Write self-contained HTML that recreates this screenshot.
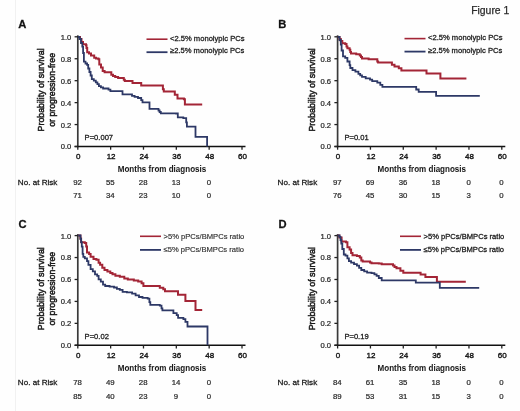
<!DOCTYPE html>
<html><head><meta charset="utf-8"><style>
html,body{margin:0;padding:0;background:#fff;}
body{width:520px;height:411px;overflow:hidden;}
svg{display:block;filter:blur(0.35px);}
text{filter:grayscale(1);}
text{font-family:"Liberation Sans", sans-serif;stroke:#1a1a1a;stroke-width:0.28px;}
</style></head><body>
<svg width="520" height="411" viewBox="0 0 520 411">
<rect width="520" height="411" fill="#fefefe"/>
<line x1="15.5" y1="0" x2="15.5" y2="411" stroke="#f1f1f1" stroke-width="1"/>
<line x1="77.8" y1="35.3" x2="77.8" y2="147.25" stroke="#3a3a3a" stroke-width="1.7"/>
<line x1="74.6" y1="146.5" x2="245.5" y2="146.5" stroke="#111" stroke-width="1.5"/>
<line x1="74.6" y1="146.5" x2="77.8" y2="146.5" stroke="#222" stroke-width="1.3"/>
<text x="71.3" y="149.45" font-size="7.6" text-anchor="end" font-weight="normal" fill="#262626" style="stroke:#262626;stroke-width:0.22px">0.0</text>
<line x1="74.6" y1="124.56" x2="77.8" y2="124.56" stroke="#222" stroke-width="1.3"/>
<text x="71.3" y="127.51" font-size="7.6" text-anchor="end" font-weight="normal" fill="#262626" style="stroke:#262626;stroke-width:0.22px">0.2</text>
<line x1="74.6" y1="102.62" x2="77.8" y2="102.62" stroke="#222" stroke-width="1.3"/>
<text x="71.3" y="105.57" font-size="7.6" text-anchor="end" font-weight="normal" fill="#262626" style="stroke:#262626;stroke-width:0.22px">0.4</text>
<line x1="74.6" y1="80.68" x2="77.8" y2="80.68" stroke="#222" stroke-width="1.3"/>
<text x="71.3" y="83.63" font-size="7.6" text-anchor="end" font-weight="normal" fill="#262626" style="stroke:#262626;stroke-width:0.22px">0.6</text>
<line x1="74.6" y1="58.74" x2="77.8" y2="58.74" stroke="#222" stroke-width="1.3"/>
<text x="71.3" y="61.69" font-size="7.6" text-anchor="end" font-weight="normal" fill="#262626" style="stroke:#262626;stroke-width:0.22px">0.8</text>
<line x1="74.6" y1="36.8" x2="77.8" y2="36.8" stroke="#222" stroke-width="1.3"/>
<text x="71.3" y="39.75" font-size="7.6" text-anchor="end" font-weight="normal" fill="#262626" style="stroke:#262626;stroke-width:0.22px">1.0</text>
<line x1="77.8" y1="146.5" x2="77.8" y2="149.7" stroke="#222" stroke-width="1.3"/>
<text x="78.3" y="158.9" font-size="8.0" text-anchor="middle" font-weight="normal" fill="#1a1a1a" style="stroke:#1a1a1a;stroke-width:0.4px">0</text>
<line x1="110.64" y1="146.5" x2="110.64" y2="149.7" stroke="#222" stroke-width="1.3"/>
<text x="111.14" y="158.9" font-size="8.0" text-anchor="middle" font-weight="normal" fill="#1a1a1a" style="stroke:#1a1a1a;stroke-width:0.4px">12</text>
<line x1="143.48" y1="146.5" x2="143.48" y2="149.7" stroke="#222" stroke-width="1.3"/>
<text x="143.98" y="158.9" font-size="8.0" text-anchor="middle" font-weight="normal" fill="#1a1a1a" style="stroke:#1a1a1a;stroke-width:0.4px">24</text>
<line x1="176.32" y1="146.5" x2="176.32" y2="149.7" stroke="#222" stroke-width="1.3"/>
<text x="176.82" y="158.9" font-size="8.0" text-anchor="middle" font-weight="normal" fill="#1a1a1a" style="stroke:#1a1a1a;stroke-width:0.4px">36</text>
<line x1="209.16" y1="146.5" x2="209.16" y2="149.7" stroke="#222" stroke-width="1.3"/>
<text x="209.66" y="158.9" font-size="8.0" text-anchor="middle" font-weight="normal" fill="#1a1a1a" style="stroke:#1a1a1a;stroke-width:0.4px">48</text>
<line x1="242" y1="146.5" x2="242" y2="149.7" stroke="#222" stroke-width="1.3"/>
<text x="242.5" y="158.9" font-size="8.0" text-anchor="middle" font-weight="normal" fill="#1a1a1a" style="stroke:#1a1a1a;stroke-width:0.4px">60</text>
<text x="162" y="171.9" font-size="9.4" text-anchor="middle" font-weight="bold" fill="#1a1a1a" textLength="88.5" lengthAdjust="spacingAndGlyphs" style="stroke-width:0.05px">Months from diagnosis</text>
<text x="0" y="0" font-size="9.6" text-anchor="middle" textLength="83.0" lengthAdjust="spacingAndGlyphs" fill="#1a1a1a" style="stroke-width:0.5px" transform="translate(43.7,89.9) rotate(-90)">Probability of survival</text>
<text x="0" y="0" font-size="9.6" text-anchor="middle" textLength="73.8" lengthAdjust="spacingAndGlyphs" fill="#1a1a1a" style="stroke-width:0.5px" transform="translate(55.3,89.9) rotate(-90)">or progression-free</text>
<line x1="146.5" y1="39.2" x2="167.5" y2="39.2" stroke="#a32536" stroke-width="1.6"/>
<line x1="146.5" y1="52.2" x2="167.5" y2="52.2" stroke="#2d3866" stroke-width="1.8"/>
<text x="170" y="40.6" font-size="7.6" text-anchor="start" font-weight="normal" fill="#1a1a1a" style="stroke:#1a1a1a;stroke-width:0.28px">&lt;2.5% monolypic PCs</text>
<text x="170" y="53.2" font-size="7.6" text-anchor="start" font-weight="normal" fill="#1a1a1a" style="stroke:#1a1a1a;stroke-width:0.28px">&#8805;2.5% monolypic PCs</text>
<text x="84.6" y="139.9" font-size="7.6" text-anchor="start" font-weight="normal" fill="#1a1a1a" >P=0.007</text>
<text x="17.8" y="185.4" font-size="8.1" text-anchor="start" font-weight="normal" fill="#1a1a1a" >No. at Risk</text>
<text x="77.5" y="185.4" font-size="7.8" text-anchor="middle" font-weight="normal" fill="#2a2a2a" style="stroke:#2a2a2a;stroke-width:0.22px">92</text>
<text x="110.34" y="185.4" font-size="7.8" text-anchor="middle" font-weight="normal" fill="#2a2a2a" style="stroke:#2a2a2a;stroke-width:0.22px">55</text>
<text x="143.18" y="185.4" font-size="7.8" text-anchor="middle" font-weight="normal" fill="#2a2a2a" style="stroke:#2a2a2a;stroke-width:0.22px">28</text>
<text x="176.02" y="185.4" font-size="7.8" text-anchor="middle" font-weight="normal" fill="#2a2a2a" style="stroke:#2a2a2a;stroke-width:0.22px">13</text>
<text x="208.86" y="185.4" font-size="7.8" text-anchor="middle" font-weight="normal" fill="#2a2a2a" style="stroke:#2a2a2a;stroke-width:0.22px">0</text>
<text x="77.5" y="198.4" font-size="7.8" text-anchor="middle" font-weight="normal" fill="#2a2a2a" style="stroke:#2a2a2a;stroke-width:0.22px">71</text>
<text x="110.34" y="198.4" font-size="7.8" text-anchor="middle" font-weight="normal" fill="#2a2a2a" style="stroke:#2a2a2a;stroke-width:0.22px">34</text>
<text x="143.18" y="198.4" font-size="7.8" text-anchor="middle" font-weight="normal" fill="#2a2a2a" style="stroke:#2a2a2a;stroke-width:0.22px">23</text>
<text x="176.02" y="198.4" font-size="7.8" text-anchor="middle" font-weight="normal" fill="#2a2a2a" style="stroke:#2a2a2a;stroke-width:0.22px">10</text>
<text x="208.86" y="198.4" font-size="7.8" text-anchor="middle" font-weight="normal" fill="#2a2a2a" style="stroke:#2a2a2a;stroke-width:0.22px">0</text>
<text x="18.3" y="28.3" font-size="11.2" text-anchor="start" font-weight="bold" fill="#111" >A</text>
<line x1="337.6" y1="35.3" x2="337.6" y2="147.25" stroke="#3a3a3a" stroke-width="1.7"/>
<line x1="334.4" y1="146.5" x2="505.3" y2="146.5" stroke="#111" stroke-width="1.5"/>
<line x1="334.4" y1="146.5" x2="337.6" y2="146.5" stroke="#222" stroke-width="1.3"/>
<text x="331.1" y="149.45" font-size="7.6" text-anchor="end" font-weight="normal" fill="#262626" style="stroke:#262626;stroke-width:0.22px">0.0</text>
<line x1="334.4" y1="124.56" x2="337.6" y2="124.56" stroke="#222" stroke-width="1.3"/>
<text x="331.1" y="127.51" font-size="7.6" text-anchor="end" font-weight="normal" fill="#262626" style="stroke:#262626;stroke-width:0.22px">0.2</text>
<line x1="334.4" y1="102.62" x2="337.6" y2="102.62" stroke="#222" stroke-width="1.3"/>
<text x="331.1" y="105.57" font-size="7.6" text-anchor="end" font-weight="normal" fill="#262626" style="stroke:#262626;stroke-width:0.22px">0.4</text>
<line x1="334.4" y1="80.68" x2="337.6" y2="80.68" stroke="#222" stroke-width="1.3"/>
<text x="331.1" y="83.63" font-size="7.6" text-anchor="end" font-weight="normal" fill="#262626" style="stroke:#262626;stroke-width:0.22px">0.6</text>
<line x1="334.4" y1="58.74" x2="337.6" y2="58.74" stroke="#222" stroke-width="1.3"/>
<text x="331.1" y="61.69" font-size="7.6" text-anchor="end" font-weight="normal" fill="#262626" style="stroke:#262626;stroke-width:0.22px">0.8</text>
<line x1="334.4" y1="36.8" x2="337.6" y2="36.8" stroke="#222" stroke-width="1.3"/>
<text x="331.1" y="39.75" font-size="7.6" text-anchor="end" font-weight="normal" fill="#262626" style="stroke:#262626;stroke-width:0.22px">1.0</text>
<line x1="337.6" y1="146.5" x2="337.6" y2="149.7" stroke="#222" stroke-width="1.3"/>
<text x="338.1" y="158.9" font-size="8.0" text-anchor="middle" font-weight="normal" fill="#1a1a1a" style="stroke:#1a1a1a;stroke-width:0.4px">0</text>
<line x1="370.44" y1="146.5" x2="370.44" y2="149.7" stroke="#222" stroke-width="1.3"/>
<text x="370.94" y="158.9" font-size="8.0" text-anchor="middle" font-weight="normal" fill="#1a1a1a" style="stroke:#1a1a1a;stroke-width:0.4px">12</text>
<line x1="403.28" y1="146.5" x2="403.28" y2="149.7" stroke="#222" stroke-width="1.3"/>
<text x="403.78" y="158.9" font-size="8.0" text-anchor="middle" font-weight="normal" fill="#1a1a1a" style="stroke:#1a1a1a;stroke-width:0.4px">24</text>
<line x1="436.12" y1="146.5" x2="436.12" y2="149.7" stroke="#222" stroke-width="1.3"/>
<text x="436.62" y="158.9" font-size="8.0" text-anchor="middle" font-weight="normal" fill="#1a1a1a" style="stroke:#1a1a1a;stroke-width:0.4px">36</text>
<line x1="468.96" y1="146.5" x2="468.96" y2="149.7" stroke="#222" stroke-width="1.3"/>
<text x="469.46" y="158.9" font-size="8.0" text-anchor="middle" font-weight="normal" fill="#1a1a1a" style="stroke:#1a1a1a;stroke-width:0.4px">48</text>
<line x1="501.8" y1="146.5" x2="501.8" y2="149.7" stroke="#222" stroke-width="1.3"/>
<text x="502.3" y="158.9" font-size="8.0" text-anchor="middle" font-weight="normal" fill="#1a1a1a" style="stroke:#1a1a1a;stroke-width:0.4px">60</text>
<text x="421.8" y="171.9" font-size="9.4" text-anchor="middle" font-weight="bold" fill="#1a1a1a" textLength="88.5" lengthAdjust="spacingAndGlyphs" style="stroke-width:0.05px">Months from diagnosis</text>
<text x="0" y="0" font-size="9.6" text-anchor="middle" textLength="83.3" lengthAdjust="spacingAndGlyphs" fill="#1a1a1a" style="stroke-width:0.5px" transform="translate(315.2,89.9) rotate(-90)">Probability of survival</text>
<line x1="404.5" y1="38.6" x2="425.5" y2="38.6" stroke="#a32536" stroke-width="1.6"/>
<line x1="404.5" y1="51.6" x2="425.5" y2="51.6" stroke="#2d3866" stroke-width="1.8"/>
<text x="428" y="40" font-size="7.6" text-anchor="start" font-weight="normal" fill="#1a1a1a" style="stroke:#1a1a1a;stroke-width:0.28px">&lt;2.5% monolypic PCs</text>
<text x="428" y="52.6" font-size="7.6" text-anchor="start" font-weight="normal" fill="#1a1a1a" style="stroke:#1a1a1a;stroke-width:0.28px">&#8805;2.5% monolypic PCs</text>
<text x="344.4" y="139.9" font-size="7.6" text-anchor="start" font-weight="normal" fill="#1a1a1a" >P=0.01</text>
<text x="277.6" y="185.4" font-size="8.1" text-anchor="start" font-weight="normal" fill="#1a1a1a" >No. at Risk</text>
<text x="337.3" y="185.4" font-size="7.8" text-anchor="middle" font-weight="normal" fill="#2a2a2a" style="stroke:#2a2a2a;stroke-width:0.22px">97</text>
<text x="370.14" y="185.4" font-size="7.8" text-anchor="middle" font-weight="normal" fill="#2a2a2a" style="stroke:#2a2a2a;stroke-width:0.22px">69</text>
<text x="402.98" y="185.4" font-size="7.8" text-anchor="middle" font-weight="normal" fill="#2a2a2a" style="stroke:#2a2a2a;stroke-width:0.22px">36</text>
<text x="435.82" y="185.4" font-size="7.8" text-anchor="middle" font-weight="normal" fill="#2a2a2a" style="stroke:#2a2a2a;stroke-width:0.22px">18</text>
<text x="468.66" y="185.4" font-size="7.8" text-anchor="middle" font-weight="normal" fill="#2a2a2a" style="stroke:#2a2a2a;stroke-width:0.22px">0</text>
<text x="501.5" y="185.4" font-size="7.8" text-anchor="middle" font-weight="normal" fill="#2a2a2a" style="stroke:#2a2a2a;stroke-width:0.22px">0</text>
<text x="337.3" y="198.4" font-size="7.8" text-anchor="middle" font-weight="normal" fill="#2a2a2a" style="stroke:#2a2a2a;stroke-width:0.22px">76</text>
<text x="370.14" y="198.4" font-size="7.8" text-anchor="middle" font-weight="normal" fill="#2a2a2a" style="stroke:#2a2a2a;stroke-width:0.22px">45</text>
<text x="402.98" y="198.4" font-size="7.8" text-anchor="middle" font-weight="normal" fill="#2a2a2a" style="stroke:#2a2a2a;stroke-width:0.22px">30</text>
<text x="435.82" y="198.4" font-size="7.8" text-anchor="middle" font-weight="normal" fill="#2a2a2a" style="stroke:#2a2a2a;stroke-width:0.22px">15</text>
<text x="468.66" y="198.4" font-size="7.8" text-anchor="middle" font-weight="normal" fill="#2a2a2a" style="stroke:#2a2a2a;stroke-width:0.22px">3</text>
<text x="501.5" y="198.4" font-size="7.8" text-anchor="middle" font-weight="normal" fill="#2a2a2a" style="stroke:#2a2a2a;stroke-width:0.22px">0</text>
<text x="278.3" y="28.3" font-size="11.2" text-anchor="start" font-weight="bold" fill="#111" >B</text>
<line x1="77.8" y1="234.1" x2="77.8" y2="346.05" stroke="#3a3a3a" stroke-width="1.7"/>
<line x1="74.6" y1="345.3" x2="245.5" y2="345.3" stroke="#111" stroke-width="1.5"/>
<line x1="74.6" y1="345.3" x2="77.8" y2="345.3" stroke="#222" stroke-width="1.3"/>
<text x="71.3" y="348.25" font-size="7.6" text-anchor="end" font-weight="normal" fill="#262626" style="stroke:#262626;stroke-width:0.22px">0.0</text>
<line x1="74.6" y1="323.36" x2="77.8" y2="323.36" stroke="#222" stroke-width="1.3"/>
<text x="71.3" y="326.31" font-size="7.6" text-anchor="end" font-weight="normal" fill="#262626" style="stroke:#262626;stroke-width:0.22px">0.2</text>
<line x1="74.6" y1="301.42" x2="77.8" y2="301.42" stroke="#222" stroke-width="1.3"/>
<text x="71.3" y="304.37" font-size="7.6" text-anchor="end" font-weight="normal" fill="#262626" style="stroke:#262626;stroke-width:0.22px">0.4</text>
<line x1="74.6" y1="279.48" x2="77.8" y2="279.48" stroke="#222" stroke-width="1.3"/>
<text x="71.3" y="282.43" font-size="7.6" text-anchor="end" font-weight="normal" fill="#262626" style="stroke:#262626;stroke-width:0.22px">0.6</text>
<line x1="74.6" y1="257.54" x2="77.8" y2="257.54" stroke="#222" stroke-width="1.3"/>
<text x="71.3" y="260.49" font-size="7.6" text-anchor="end" font-weight="normal" fill="#262626" style="stroke:#262626;stroke-width:0.22px">0.8</text>
<line x1="74.6" y1="235.6" x2="77.8" y2="235.6" stroke="#222" stroke-width="1.3"/>
<text x="71.3" y="238.55" font-size="7.6" text-anchor="end" font-weight="normal" fill="#262626" style="stroke:#262626;stroke-width:0.22px">1.0</text>
<line x1="77.8" y1="345.3" x2="77.8" y2="348.5" stroke="#222" stroke-width="1.3"/>
<text x="78.3" y="357.7" font-size="8.0" text-anchor="middle" font-weight="normal" fill="#1a1a1a" style="stroke:#1a1a1a;stroke-width:0.4px">0</text>
<line x1="110.64" y1="345.3" x2="110.64" y2="348.5" stroke="#222" stroke-width="1.3"/>
<text x="111.14" y="357.7" font-size="8.0" text-anchor="middle" font-weight="normal" fill="#1a1a1a" style="stroke:#1a1a1a;stroke-width:0.4px">12</text>
<line x1="143.48" y1="345.3" x2="143.48" y2="348.5" stroke="#222" stroke-width="1.3"/>
<text x="143.98" y="357.7" font-size="8.0" text-anchor="middle" font-weight="normal" fill="#1a1a1a" style="stroke:#1a1a1a;stroke-width:0.4px">24</text>
<line x1="176.32" y1="345.3" x2="176.32" y2="348.5" stroke="#222" stroke-width="1.3"/>
<text x="176.82" y="357.7" font-size="8.0" text-anchor="middle" font-weight="normal" fill="#1a1a1a" style="stroke:#1a1a1a;stroke-width:0.4px">36</text>
<line x1="209.16" y1="345.3" x2="209.16" y2="348.5" stroke="#222" stroke-width="1.3"/>
<text x="209.66" y="357.7" font-size="8.0" text-anchor="middle" font-weight="normal" fill="#1a1a1a" style="stroke:#1a1a1a;stroke-width:0.4px">48</text>
<line x1="242" y1="345.3" x2="242" y2="348.5" stroke="#222" stroke-width="1.3"/>
<text x="242.5" y="357.7" font-size="8.0" text-anchor="middle" font-weight="normal" fill="#1a1a1a" style="stroke:#1a1a1a;stroke-width:0.4px">60</text>
<text x="162" y="370.7" font-size="9.4" text-anchor="middle" font-weight="bold" fill="#1a1a1a" textLength="88.5" lengthAdjust="spacingAndGlyphs" style="stroke-width:0.05px">Months from diagnosis</text>
<text x="0" y="0" font-size="9.6" text-anchor="middle" textLength="83.0" lengthAdjust="spacingAndGlyphs" fill="#1a1a1a" style="stroke-width:0.5px" transform="translate(43.7,288.7) rotate(-90)">Probability of survival</text>
<text x="0" y="0" font-size="9.6" text-anchor="middle" textLength="73.8" lengthAdjust="spacingAndGlyphs" fill="#1a1a1a" style="stroke-width:0.5px" transform="translate(55.3,288.7) rotate(-90)">or progression-free</text>
<line x1="140" y1="236.3" x2="161" y2="236.3" stroke="#a32536" stroke-width="1.6"/>
<line x1="140" y1="249.9" x2="161" y2="249.9" stroke="#2d3866" stroke-width="1.8"/>
<text x="163.5" y="238.6" font-size="7.6" text-anchor="start" font-weight="normal" fill="#2e2e2e" style="stroke:#2e2e2e;stroke-width:0.15px">&gt;5% pPCs/BMPCs ratio</text>
<text x="163.5" y="252" font-size="7.6" text-anchor="start" font-weight="normal" fill="#2e2e2e" style="stroke:#2e2e2e;stroke-width:0.15px">&#8804;5% pPCs/BMPCs ratio</text>
<text x="84.6" y="338.7" font-size="7.6" text-anchor="start" font-weight="normal" fill="#1a1a1a" >P=0.02</text>
<text x="17.8" y="385.1" font-size="8.1" text-anchor="start" font-weight="normal" fill="#1a1a1a" >No. at Risk</text>
<text x="77.5" y="385.1" font-size="7.8" text-anchor="middle" font-weight="normal" fill="#2a2a2a" style="stroke:#2a2a2a;stroke-width:0.22px">78</text>
<text x="110.34" y="385.1" font-size="7.8" text-anchor="middle" font-weight="normal" fill="#2a2a2a" style="stroke:#2a2a2a;stroke-width:0.22px">49</text>
<text x="143.18" y="385.1" font-size="7.8" text-anchor="middle" font-weight="normal" fill="#2a2a2a" style="stroke:#2a2a2a;stroke-width:0.22px">28</text>
<text x="176.02" y="385.1" font-size="7.8" text-anchor="middle" font-weight="normal" fill="#2a2a2a" style="stroke:#2a2a2a;stroke-width:0.22px">14</text>
<text x="208.86" y="385.1" font-size="7.8" text-anchor="middle" font-weight="normal" fill="#2a2a2a" style="stroke:#2a2a2a;stroke-width:0.22px">0</text>
<text x="77.5" y="398.7" font-size="7.8" text-anchor="middle" font-weight="normal" fill="#2a2a2a" style="stroke:#2a2a2a;stroke-width:0.22px">85</text>
<text x="110.34" y="398.7" font-size="7.8" text-anchor="middle" font-weight="normal" fill="#2a2a2a" style="stroke:#2a2a2a;stroke-width:0.22px">40</text>
<text x="143.18" y="398.7" font-size="7.8" text-anchor="middle" font-weight="normal" fill="#2a2a2a" style="stroke:#2a2a2a;stroke-width:0.22px">23</text>
<text x="176.02" y="398.7" font-size="7.8" text-anchor="middle" font-weight="normal" fill="#2a2a2a" style="stroke:#2a2a2a;stroke-width:0.22px">9</text>
<text x="208.86" y="398.7" font-size="7.8" text-anchor="middle" font-weight="normal" fill="#2a2a2a" style="stroke:#2a2a2a;stroke-width:0.22px">0</text>
<text x="18.5" y="228.3" font-size="11.2" text-anchor="start" font-weight="bold" fill="#111" >C</text>
<line x1="337.6" y1="234.1" x2="337.6" y2="346.05" stroke="#3a3a3a" stroke-width="1.7"/>
<line x1="334.4" y1="345.3" x2="505.3" y2="345.3" stroke="#111" stroke-width="1.5"/>
<line x1="334.4" y1="345.3" x2="337.6" y2="345.3" stroke="#222" stroke-width="1.3"/>
<text x="331.1" y="348.25" font-size="7.6" text-anchor="end" font-weight="normal" fill="#262626" style="stroke:#262626;stroke-width:0.22px">0.0</text>
<line x1="334.4" y1="323.36" x2="337.6" y2="323.36" stroke="#222" stroke-width="1.3"/>
<text x="331.1" y="326.31" font-size="7.6" text-anchor="end" font-weight="normal" fill="#262626" style="stroke:#262626;stroke-width:0.22px">0.2</text>
<line x1="334.4" y1="301.42" x2="337.6" y2="301.42" stroke="#222" stroke-width="1.3"/>
<text x="331.1" y="304.37" font-size="7.6" text-anchor="end" font-weight="normal" fill="#262626" style="stroke:#262626;stroke-width:0.22px">0.4</text>
<line x1="334.4" y1="279.48" x2="337.6" y2="279.48" stroke="#222" stroke-width="1.3"/>
<text x="331.1" y="282.43" font-size="7.6" text-anchor="end" font-weight="normal" fill="#262626" style="stroke:#262626;stroke-width:0.22px">0.6</text>
<line x1="334.4" y1="257.54" x2="337.6" y2="257.54" stroke="#222" stroke-width="1.3"/>
<text x="331.1" y="260.49" font-size="7.6" text-anchor="end" font-weight="normal" fill="#262626" style="stroke:#262626;stroke-width:0.22px">0.8</text>
<line x1="334.4" y1="235.6" x2="337.6" y2="235.6" stroke="#222" stroke-width="1.3"/>
<text x="331.1" y="238.55" font-size="7.6" text-anchor="end" font-weight="normal" fill="#262626" style="stroke:#262626;stroke-width:0.22px">1.0</text>
<line x1="337.6" y1="345.3" x2="337.6" y2="348.5" stroke="#222" stroke-width="1.3"/>
<text x="338.1" y="357.7" font-size="8.0" text-anchor="middle" font-weight="normal" fill="#1a1a1a" style="stroke:#1a1a1a;stroke-width:0.4px">0</text>
<line x1="370.44" y1="345.3" x2="370.44" y2="348.5" stroke="#222" stroke-width="1.3"/>
<text x="370.94" y="357.7" font-size="8.0" text-anchor="middle" font-weight="normal" fill="#1a1a1a" style="stroke:#1a1a1a;stroke-width:0.4px">12</text>
<line x1="403.28" y1="345.3" x2="403.28" y2="348.5" stroke="#222" stroke-width="1.3"/>
<text x="403.78" y="357.7" font-size="8.0" text-anchor="middle" font-weight="normal" fill="#1a1a1a" style="stroke:#1a1a1a;stroke-width:0.4px">24</text>
<line x1="436.12" y1="345.3" x2="436.12" y2="348.5" stroke="#222" stroke-width="1.3"/>
<text x="436.62" y="357.7" font-size="8.0" text-anchor="middle" font-weight="normal" fill="#1a1a1a" style="stroke:#1a1a1a;stroke-width:0.4px">36</text>
<line x1="468.96" y1="345.3" x2="468.96" y2="348.5" stroke="#222" stroke-width="1.3"/>
<text x="469.46" y="357.7" font-size="8.0" text-anchor="middle" font-weight="normal" fill="#1a1a1a" style="stroke:#1a1a1a;stroke-width:0.4px">48</text>
<line x1="501.8" y1="345.3" x2="501.8" y2="348.5" stroke="#222" stroke-width="1.3"/>
<text x="502.3" y="357.7" font-size="8.0" text-anchor="middle" font-weight="normal" fill="#1a1a1a" style="stroke:#1a1a1a;stroke-width:0.4px">60</text>
<text x="421.8" y="370.7" font-size="9.4" text-anchor="middle" font-weight="bold" fill="#1a1a1a" textLength="88.5" lengthAdjust="spacingAndGlyphs" style="stroke-width:0.05px">Months from diagnosis</text>
<text x="0" y="0" font-size="9.6" text-anchor="middle" textLength="83.3" lengthAdjust="spacingAndGlyphs" fill="#1a1a1a" style="stroke-width:0.5px" transform="translate(315.2,288.7) rotate(-90)">Probability of survival</text>
<line x1="400" y1="236.3" x2="421" y2="236.3" stroke="#a32536" stroke-width="1.6"/>
<line x1="400" y1="249.9" x2="421" y2="249.9" stroke="#2d3866" stroke-width="1.8"/>
<text x="423.5" y="238.6" font-size="7.6" text-anchor="start" font-weight="normal" fill="#1a1a1a" style="stroke:#1a1a1a;stroke-width:0.28px">&gt;5% pPCs/BMPCs ratio</text>
<text x="423.5" y="252" font-size="7.6" text-anchor="start" font-weight="normal" fill="#1a1a1a" style="stroke:#1a1a1a;stroke-width:0.28px">&#8804;5% pPCs/BMPCs ratio</text>
<text x="344.4" y="338.7" font-size="7.6" text-anchor="start" font-weight="normal" fill="#1a1a1a" >P=0.19</text>
<text x="277.6" y="385.1" font-size="8.1" text-anchor="start" font-weight="normal" fill="#1a1a1a" >No. at Risk</text>
<text x="337.3" y="385.1" font-size="7.8" text-anchor="middle" font-weight="normal" fill="#2a2a2a" style="stroke:#2a2a2a;stroke-width:0.22px">84</text>
<text x="370.14" y="385.1" font-size="7.8" text-anchor="middle" font-weight="normal" fill="#2a2a2a" style="stroke:#2a2a2a;stroke-width:0.22px">61</text>
<text x="402.98" y="385.1" font-size="7.8" text-anchor="middle" font-weight="normal" fill="#2a2a2a" style="stroke:#2a2a2a;stroke-width:0.22px">35</text>
<text x="435.82" y="385.1" font-size="7.8" text-anchor="middle" font-weight="normal" fill="#2a2a2a" style="stroke:#2a2a2a;stroke-width:0.22px">18</text>
<text x="468.66" y="385.1" font-size="7.8" text-anchor="middle" font-weight="normal" fill="#2a2a2a" style="stroke:#2a2a2a;stroke-width:0.22px">0</text>
<text x="501.5" y="385.1" font-size="7.8" text-anchor="middle" font-weight="normal" fill="#2a2a2a" style="stroke:#2a2a2a;stroke-width:0.22px">0</text>
<text x="337.3" y="398.7" font-size="7.8" text-anchor="middle" font-weight="normal" fill="#2a2a2a" style="stroke:#2a2a2a;stroke-width:0.22px">89</text>
<text x="370.14" y="398.7" font-size="7.8" text-anchor="middle" font-weight="normal" fill="#2a2a2a" style="stroke:#2a2a2a;stroke-width:0.22px">53</text>
<text x="402.98" y="398.7" font-size="7.8" text-anchor="middle" font-weight="normal" fill="#2a2a2a" style="stroke:#2a2a2a;stroke-width:0.22px">31</text>
<text x="435.82" y="398.7" font-size="7.8" text-anchor="middle" font-weight="normal" fill="#2a2a2a" style="stroke:#2a2a2a;stroke-width:0.22px">15</text>
<text x="468.66" y="398.7" font-size="7.8" text-anchor="middle" font-weight="normal" fill="#2a2a2a" style="stroke:#2a2a2a;stroke-width:0.22px">3</text>
<text x="501.5" y="398.7" font-size="7.8" text-anchor="middle" font-weight="normal" fill="#2a2a2a" style="stroke:#2a2a2a;stroke-width:0.22px">0</text>
<text x="278.5" y="228.2" font-size="11.2" text-anchor="start" font-weight="bold" fill="#111" >D</text>
<path d="M78 37 H80 V39 H81.5 V42 H83 V44.3 H86 V45.2 H86.5 V48 H87.2 V52.2 H89 V53.5 H91 V55.4 H94.2 V57.7 H96 V58.5 H98.4 V59.3 H99.3 V64.6 H101 V67.5 H102.7 V70.9 H104.6 V72.3 H111.3 V74.7 H113 V76 H115.2 V77.1 H118.1 V78.1 H123.8 V79.8 H124.8 V81 H132.5 V82.9 H141.2 V85.4 H162.9 V89.2 H163.8 V91.4 H174.8 V94.7 H177.5 V98.4 H183.9 V99.3 H184.9 V104.6 H202.2 V104.6" fill="none" stroke="#a32536" stroke-width="2.0" stroke-linejoin="miter" stroke-linecap="butt"/>
<path d="M78 37 H79.5 V39 H81 V43 H82.3 V46.7 H83.1 V53 H83.9 V61.7 H85.5 V63.5 H87.1 V64.9 H88.2 V68.5 H89.4 V72 H90.6 V75.5 H91.8 V79.1 H93.8 V80.7 H95.8 V82.3 H97.4 V84.2 H98.9 V86.2 H100.9 V87.4 H103.1 V88.5 H108.5 V89.7 H110.4 V91.2 H122.5 V94.3 H132 V95.8 H134.6 V96.8 H138 V98 H141.2 V100.2 H142.5 V102.4 H149.5 V108.8 H158.5 V110.5 H159.6 V112 H160.8 V113.3 H176.1 V113.5 H177.8 V117.4 H183.3 V118.1 H186.2 V122.4 H186.9 V126.7 H195.5 V136.8 H207.1 V146.5" fill="none" stroke="#2d3866" stroke-width="1.8" stroke-linejoin="miter" stroke-linecap="butt"/>
<path d="M337.8 37 H339.5 V39 H340.8 V41 H342.3 V43.2 H345.2 V43.9 H346.5 V46.5 H347.4 V48.3 H349.6 V49.8 H350.3 V52 H351 V53.4 H356.2 V54.2 H359.8 V55.6 H361 V57 H362 V58.5 H368.6 V59.3 H377.3 V61.5 H378.1 V62.6 H391.9 V64.7 H394.5 V66.4 H398.8 V68.2 H401.4 V70.4 H426.5 V73.4 H440.4 V78.6 H466.4 V78.6" fill="none" stroke="#a32536" stroke-width="2.0" stroke-linejoin="miter" stroke-linecap="butt"/>
<path d="M337.8 37 H339.5 V40 H340.8 V44.7 H341.6 V50.5 H343 V56.4 H345.2 V57.8 H347.4 V61.5 H349.6 V65.1 H350.3 V68 H352.5 V70.2 H355.4 V71.7 H358.4 V73.9 H360.2 V75.3 H362 V76.8 H365.7 V78.3 H370 V79.7 H372.2 V81.2 H377.3 V82.6 H380.3 V84.8 H382.4 V86.8 H416.2 V89.5 H418.7 V91.9 H436.1 V95.9 H479.8 V95.9" fill="none" stroke="#2d3866" stroke-width="1.8" stroke-linejoin="miter" stroke-linecap="butt"/>
<path d="M78.2 235.5 H80.4 V238.6 H81.1 V242.2 H84.8 V243 H86.2 V246.6 H87 V252.4 H89.1 V253.9 H90.6 V256.8 H93.5 V259 H96.4 V259.7 H98.6 V262.7 H100.1 V264.8 H102.3 V267.8 H104.5 V270 H107.4 V271.4 H110.3 V272.9 H112.5 V274.3 H115.4 V275.8 H119.8 V276.7 H124.3 V278.6 H127.8 V279.6 H133.8 V280.6 H138.2 V281.4 H141.6 V283.2 H143.4 V286.1 H159.8 V287.8 H163.3 V289.2 H165 V291.3 H178 V294.8 H185.4 V300.9 H195.5 V309.9 H202.2 V309.9" fill="none" stroke="#a32536" stroke-width="2.0" stroke-linejoin="miter" stroke-linecap="butt"/>
<path d="M78.2 235.5 H80.5 V239 H81.1 V242.2 H81.8 V246.6 H82.6 V253.9 H83.3 V256.8 H84.8 V258.3 H87 V261.2 H88.4 V264.8 H90.6 V269.2 H92.8 V271.4 H95 V274.3 H97.2 V275.8 H98.6 V279.4 H100.8 V281.6 H103 V284.6 H105.2 V286 H109.6 V286.7 H114 V287.5 H116.9 V288.9 H119.8 V289.9 H122.6 V291.8 H126.9 V292.3 H132.1 V293.6 H135.6 V295.3 H139 V297 H142.5 V297.9 H147.7 V298.7 H149.4 V302.2 H150.3 V304.8 H159.8 V305.7 H161.5 V308.3 H162.4 V310.4 H172.7 V310.4 H173.4 V313.1 H176.7 V315.1 H178.1 V317.8 H183.4 V319.1 H185.4 V321.8 H187.5 V326.5 H207.5 V345.3" fill="none" stroke="#2d3866" stroke-width="1.8" stroke-linejoin="miter" stroke-linecap="butt"/>
<path d="M337.8 235.5 H339.4 V237.6 H341.6 V241.5 H346 V242.2 H347.4 V247.3 H349.6 V249.5 H351.1 V253.1 H352.5 V255.3 H356.9 V256.1 H359.8 V257.5 H361.3 V260.4 H362.7 V261.6 H370 V262.5 H371.5 V263.3 H378.8 V263.6 H381.7 V264.2 H393 V265.5 H394.5 V266.9 H396.5 V268.3 H400.4 V270.8 H403.3 V272.7 H420.6 V274.6 H425.4 V276.9 H436.9 V281.7 H465.8 V281.7" fill="none" stroke="#a32536" stroke-width="2.0" stroke-linejoin="miter" stroke-linecap="butt"/>
<path d="M337.8 235.5 H339.5 V237 H340.5 V240 H341.3 V243.5 H342.3 V249 H343.8 V254.5 H345.5 V255.6 H347.4 V258.3 H348.9 V261.2 H351.1 V262.7 H354 V264.1 H356.9 V265.6 H359.1 V267.8 H361.3 V270 H364.2 V271.4 H367.1 V272.6 H371.5 V273.2 H374.4 V274.3 H376.6 V275.8 H378.8 V278 H381.7 V280.3 H415.8 V282.7 H439.8 V287.9 H479.2 V287.9" fill="none" stroke="#2d3866" stroke-width="1.8" stroke-linejoin="miter" stroke-linecap="butt"/>
<text x="471.2" y="14.2" font-size="10.4" text-anchor="start" font-weight="normal" fill="#2a2a2a" style="stroke:#2a2a2a;stroke-width:0.25px">Figure 1</text>
</svg>
</body></html>
